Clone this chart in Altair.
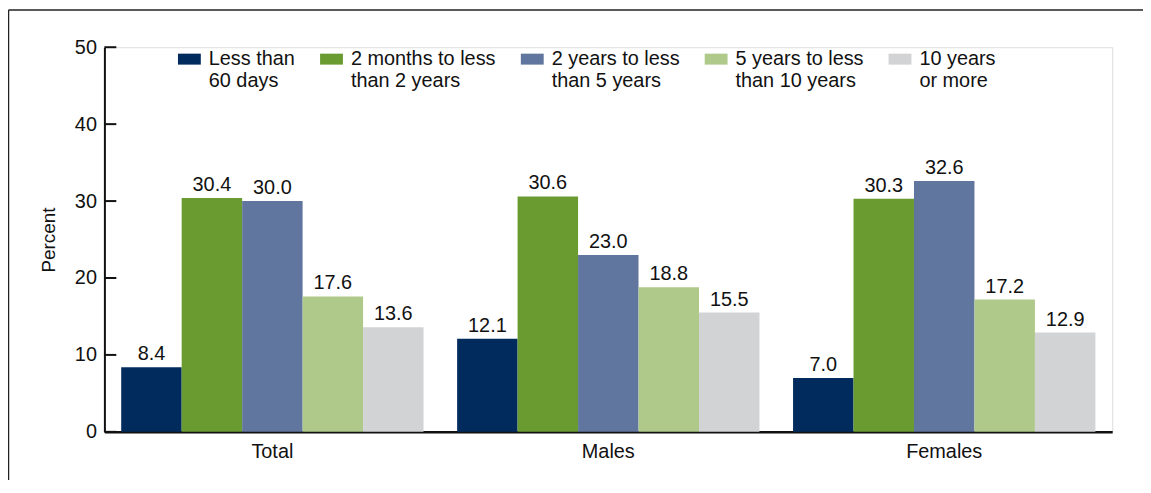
import altair as alt
import pandas as pd

groups = ["Total", "Males", "Females"]
durations = [
    "Less than\n60 days",
    "2 months to less\nthan 2 years",
    "2 years to less\nthan 5 years",
    "5 years to less\nthan 10 years",
    "10 years\nor more",
]
colors = ["#002b5c", "#6a9b31", "#61769e", "#afc98b", "#d2d3d5"]
values = {
    "Total":   [8.4, 30.4, 30.0, 17.6, 13.6],
    "Males":   [12.1, 30.6, 23.0, 18.8, 15.5],
    "Females": [7.0, 30.3, 32.6, 17.2, 12.9],
}
y_ticks = [0, 10, 20, 30, 40, 50]

rows = []
for g in groups:
    for d, v in zip(durations, values[g]):
        rows.append({"group": g, "duration": d, "value": v})
df = pd.DataFrame(rows)
ticks_df = pd.DataFrame({"t": y_ticks})
frame_df = pd.DataFrame({"k": [0]})

FONT = "Liberation Sans"

x_enc = alt.X("group:N", sort=groups, title=None,
              scale=alt.Scale(paddingInner=0.1, paddingOuter=0.05),
              axis=alt.Axis(labelAngle=0, labelFontSize=20, labelFont=FONT,
                            labelColor="#111111", ticks=False, labelPadding=10,
                            domainColor="#111111", domainWidth=2.5))
y_enc = alt.Y("value:Q", title="Percent",
              scale=alt.Scale(domain=[0, 50], nice=False),
              axis=alt.Axis(values=y_ticks, ticks=False, grid=False,
                            labelFontSize=20, labelFont=FONT, labelColor="#111111",
                            labelPadding=8, domainColor="#111111", domainWidth=2,
                            titleFontSize=19, titleFont=FONT, titleFontWeight="normal",
                            titleColor="#111111", titlePadding=16))
xoff = alt.XOffset("duration:N", sort=durations, scale=alt.Scale(paddingInner=0, paddingOuter=0))

bars = alt.Chart(df).mark_bar().encode(
    x=x_enc,
    y=y_enc,
    xOffset=xoff,
    color=alt.Color("duration:N",
                    scale=alt.Scale(domain=durations, range=colors),
                    legend=alt.Legend(
                        title=None, orient="none", direction="horizontal",
                        legendX=74, legendY=6, padding=0,
                        labelExpr="split(datum.label, '\\n')",
                        labelFontSize=20, labelFont=FONT, labelColor="#111111",
                        labelLimit=0, labelOffset=8, columnPadding=25,
                        labelBaseline="alphabetic",
                        symbolType="M-1,-0.98L1,-0.98L1,-0.02L-1,-0.02Z",
                        symbolSize=529, symbolStrokeWidth=0, symbolOpacity=1,
                    )),
)

labels = alt.Chart(df).mark_text(baseline="alphabetic", dy=-7, fontSize=20,
                                 font=FONT, color="#111111").encode(
    x=alt.X("group:N", sort=groups),
    xOffset=alt.XOffset("duration:N", sort=durations),
    y=alt.Y("value:Q"),
    text=alt.Text("value:Q", format=".1f"),
)

tick_rules = alt.Chart(ticks_df).mark_rule(color="#111111", strokeWidth=2).encode(
    y=alt.Y("t:Q"),
    x=alt.value(0),
    x2=alt.value(12),
)

frame_top = alt.Chart(frame_df).mark_rule(color="#222222", strokeWidth=1.5).encode(
    x=alt.value(-96.5), x2=alt.value(1060), y=alt.value(-37.5)
)
frame_left = alt.Chart(frame_df).mark_rule(color="#222222", strokeWidth=1.5).encode(
    x=alt.value(-96.5), y=alt.value(-37.5), y2=alt.value(460)
)

chart = alt.layer(bars, labels, tick_rules, frame_top, frame_left).properties(
    width=1014, height=387,
    autosize=alt.AutoSizeParams(type="none"),
    padding={"left": 97, "top": 38, "right": 31, "bottom": 47},
).configure_view(stroke=None).configure(background="white")

chart.save("out.html", embed_options={"renderer": "svg", "actions": False})
